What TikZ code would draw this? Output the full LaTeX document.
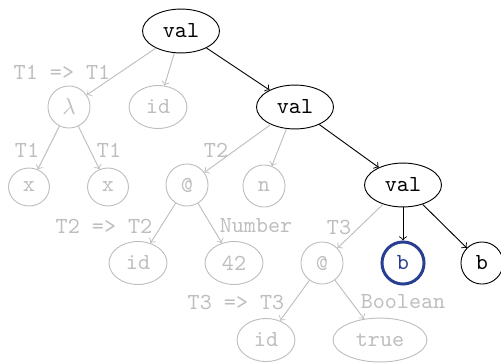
\documentclass[tikz,border=0pt]{standalone}
\usetikzlibrary{shapes.geometric}
\definecolor{fade}{RGB}{190,190,190}
\definecolor{hiblue}{RGB}{40,62,145}
\tikzset{
  base/.style={draw, ellipse, inner sep=0pt, font=\ttfamily},
  on/.style={base, black},
  off/.style={base, draw=fade, text=fade},
  val/.style={minimum width=33.5pt, minimum height=19.1pt},
  circ/.style={minimum width=18.3pt, minimum height=18.3pt},
  small/.style={minimum width=17.8pt, minimum height=16.5pt},
  idn/.style={minimum width=25.2pt, minimum height=18.7pt},
  wide/.style={minimum width=40.9pt, minimum height=19.1pt},
  lab/.style={text=fade, font=\ttfamily, inner sep=0pt},
  eon/.style={->, black},
  eoff/.style={->, fade},
}
\begin{document}
\begin{tikzpicture}[x=0.4351pt, y=-0.4351pt]
\useasboundingbox (0,0) rectangle (501,362);
\node[on, val] (v1) at (181,31) {val};
\node[off, circ] (lam) at (69,107) {$\lambda$};
\node[off, idn] (id1) at (158,107) {id};
\node[on, val] (v2) at (295,107) {val};
\node[off, small] (x1) at (29,187) {x};
\node[off, small] (x2) at (108,187) {x};
\node[off, circ] (ap1) at (187,185) {@};
\node[off, circ] (n) at (264,186) {n};
\node[on, val] (v3) at (403,185) {val};
\node[off, idn] (id2) at (138,263) {id};
\node[off, idn] (c42) at (234,263) {42};
\node[off, circ] (ap2) at (322,263) {@};
\node[base, circ, draw=hiblue, text=hiblue, line width=1.3pt] (b1) at (403,263) {b};
\node[on, circ] (b2) at (482,263) {b};
\node[off, idn] (id3) at (266,340) {id};
\node[off, wide] (tru) at (380,340) {true};

\node[lab] (l1) at (62,72) {T1 => T1};
\node[lab] (l2) at (27,150) {T1};
\node[lab] (l3) at (109,150) {T1};
\node[lab] (l4) at (216,150) {T2};
\node[lab] (l5) at (104,226) {T2 => T2};
\node[lab] (l6) at (256,226) {Number};
\node[lab] (l7) at (339,227) {T3};
\node[lab] (l8) at (236,302) {T3 => T3};
\node[lab] (l9) at (403,302) {Boolean};

\draw[eoff] (v1) -- (lam);
\draw[eoff] (v1) -- (id1);
\draw[eon] (v1) -- (v2);
\draw[eoff] (lam) -- (x1);
\draw[eoff] (lam) -- (x2);
\draw[eoff] (v2) -- (ap1);
\draw[eoff] (v2) -- (n);
\draw[eon] (v2) -- (v3);
\draw[eoff] (ap1) -- (id2);
\draw[eoff] (ap1) -- (c42);
\draw[eoff] (v3) -- (ap2);
\draw[eon] (v3) -- (b1);
\draw[eon] (v3) -- (b2);
\draw[eoff] (ap2) -- (id3);
\draw[eoff] (ap2) -- (tru);
\end{tikzpicture}
\end{document}
